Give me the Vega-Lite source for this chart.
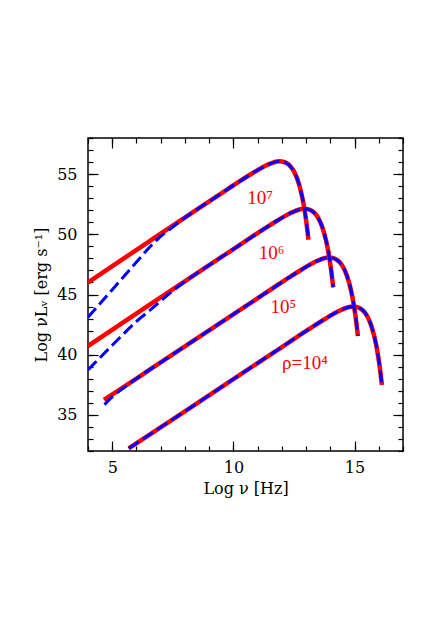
{
  "$schema": "https://vega.github.io/schema/vega-lite/v6.json",
  "width": 315,
  "height": 313,
  "autosize": {"type": "none"},
  "padding": {"left": 88, "top": 138, "right": 44, "bottom": 181},
  "background": "white",
  "config": {
    "view": {"stroke": "#000", "strokeWidth": 1.5},
    "axis": {
      "grid": false,
      "domain": false,
      "labelFont": "DejaVu Serif",
      "labelFontSize": 16,
      "labelColor": "#000",
      "titleFont": "DejaVu Serif",
      "titleFontSize": 16,
      "titleFontWeight": "normal",
      "titleColor": "#000",
      "tickColor": "#000",
      "tickWidth": 1.2
    }
  },
  "datasets": {
    "curves": [
      {"c": 7, "s": "red", "x": 4, "y": 46.0},
      {"c": 7, "s": "red", "x": 6.5, "y": 49.38},
      {"c": 7, "s": "blue", "x": 4, "y": 43.1},
      {"c": 7, "s": "blue", "x": 5, "y": 45.4},
      {"c": 7, "s": "blue", "x": 6, "y": 47.7},
      {"c": 7, "s": "blue", "x": 6.6, "y": 49.05},
      {"c": 7, "s": "blue", "x": 6.9, "y": 49.65},
      {"c": 7, "s": "blue", "x": 7.35, "y": 50.38},
      {"c": 7, "s": "blue", "x": 7.8, "y": 51.08},
      {"c": 7, "s": "blue", "x": 8.3, "y": 51.8},
      {"c": 7, "s": "both", "x": 8.8, "y": 52.47},
      {"c": 7, "s": "both", "x": 9.8, "y": 53.8},
      {"c": 7, "s": "both", "x": 10.3, "y": 54.46},
      {"c": 7, "s": "both", "x": 10.8, "y": 55.09},
      {"c": 7, "s": "both", "x": 11.1, "y": 55.45},
      {"c": 7, "s": "both", "x": 11.3, "y": 55.67},
      {"c": 7, "s": "both", "x": 11.5, "y": 55.85},
      {"c": 7, "s": "both", "x": 11.65, "y": 55.96},
      {"c": 7, "s": "both", "x": 11.8, "y": 56.04},
      {"c": 7, "s": "both", "x": 11.925, "y": 56.06},
      {"c": 7, "s": "both", "x": 12.05, "y": 56.03},
      {"c": 7, "s": "both", "x": 12.2, "y": 55.91},
      {"c": 7, "s": "both", "x": 12.35, "y": 55.66},
      {"c": 7, "s": "both", "x": 12.5, "y": 55.23},
      {"c": 7, "s": "both", "x": 12.65, "y": 54.53},
      {"c": 7, "s": "both", "x": 12.8, "y": 53.46},
      {"c": 7, "s": "both", "x": 12.9, "y": 52.47},
      {"c": 7, "s": "both", "x": 13.0, "y": 51.19},
      {"c": 7, "s": "both", "x": 13.1, "y": 49.54},

      {"c": 6, "s": "red", "x": 4, "y": 40.72},
      {"c": 6, "s": "red", "x": 6.5, "y": 44.1},
      {"c": 6, "s": "blue", "x": 4, "y": 38.74},
      {"c": 6, "s": "blue", "x": 5, "y": 40.78},
      {"c": 6, "s": "blue", "x": 6, "y": 42.76},
      {"c": 6, "s": "blue", "x": 6.66, "y": 43.87},
      {"c": 6, "s": "blue", "x": 7.21, "y": 44.83},
      {"c": 6, "s": "blue", "x": 7.7, "y": 45.62},
      {"c": 6, "s": "blue", "x": 8.3, "y": 46.49},
      {"c": 6, "s": "both", "x": 9.0, "y": 47.44},
      {"c": 6, "s": "both", "x": 9.82, "y": 48.53},
      {"c": 6, "s": "both", "x": 10.82, "y": 49.86},
      {"c": 6, "s": "both", "x": 11.32, "y": 50.52},
      {"c": 6, "s": "both", "x": 11.82, "y": 51.15},
      {"c": 6, "s": "both", "x": 12.12, "y": 51.51},
      {"c": 6, "s": "both", "x": 12.32, "y": 51.73},
      {"c": 6, "s": "both", "x": 12.52, "y": 51.91},
      {"c": 6, "s": "both", "x": 12.67, "y": 52.02},
      {"c": 6, "s": "both", "x": 12.82, "y": 52.1},
      {"c": 6, "s": "both", "x": 12.945, "y": 52.12},
      {"c": 6, "s": "both", "x": 13.07, "y": 52.09},
      {"c": 6, "s": "both", "x": 13.22, "y": 51.97},
      {"c": 6, "s": "both", "x": 13.37, "y": 51.72},
      {"c": 6, "s": "both", "x": 13.52, "y": 51.29},
      {"c": 6, "s": "both", "x": 13.67, "y": 50.59},
      {"c": 6, "s": "both", "x": 13.82, "y": 49.52},
      {"c": 6, "s": "both", "x": 13.92, "y": 48.53},
      {"c": 6, "s": "both", "x": 14.02, "y": 47.25},
      {"c": 6, "s": "both", "x": 14.12, "y": 45.6},

      {"c": 5, "s": "red", "x": 4.66, "y": 36.24},
      {"c": 5, "s": "blue", "x": 4.68, "y": 35.85},
      {"c": 5, "s": "blue", "x": 5.0, "y": 36.5},
      {"c": 5, "s": "blue", "x": 5.4, "y": 37.15},
      {"c": 5, "s": "both", "x": 6.0, "y": 38.02},
      {"c": 5, "s": "both", "x": 7.0, "y": 39.36},
      {"c": 5, "s": "both", "x": 10.84, "y": 44.48},
      {"c": 5, "s": "both", "x": 11.84, "y": 45.81},
      {"c": 5, "s": "both", "x": 12.34, "y": 46.47},
      {"c": 5, "s": "both", "x": 12.84, "y": 47.1},
      {"c": 5, "s": "both", "x": 13.14, "y": 47.46},
      {"c": 5, "s": "both", "x": 13.34, "y": 47.68},
      {"c": 5, "s": "both", "x": 13.54, "y": 47.86},
      {"c": 5, "s": "both", "x": 13.69, "y": 47.97},
      {"c": 5, "s": "both", "x": 13.84, "y": 48.05},
      {"c": 5, "s": "both", "x": 13.965, "y": 48.07},
      {"c": 5, "s": "both", "x": 14.09, "y": 48.04},
      {"c": 5, "s": "both", "x": 14.24, "y": 47.92},
      {"c": 5, "s": "both", "x": 14.39, "y": 47.67},
      {"c": 5, "s": "both", "x": 14.54, "y": 47.24},
      {"c": 5, "s": "both", "x": 14.69, "y": 46.54},
      {"c": 5, "s": "both", "x": 14.84, "y": 45.47},
      {"c": 5, "s": "both", "x": 14.94, "y": 44.48},
      {"c": 5, "s": "both", "x": 15.04, "y": 43.2},
      {"c": 5, "s": "both", "x": 15.14, "y": 41.55},

      {"c": 4, "s": "both", "x": 5.68, "y": 32.21},
      {"c": 4, "s": "both", "x": 8.0, "y": 35.3},
      {"c": 4, "s": "both", "x": 11.83, "y": 40.41},
      {"c": 4, "s": "both", "x": 12.83, "y": 41.74},
      {"c": 4, "s": "both", "x": 13.33, "y": 42.4},
      {"c": 4, "s": "both", "x": 13.83, "y": 43.03},
      {"c": 4, "s": "both", "x": 14.13, "y": 43.39},
      {"c": 4, "s": "both", "x": 14.33, "y": 43.61},
      {"c": 4, "s": "both", "x": 14.53, "y": 43.79},
      {"c": 4, "s": "both", "x": 14.68, "y": 43.9},
      {"c": 4, "s": "both", "x": 14.83, "y": 43.98},
      {"c": 4, "s": "both", "x": 14.955, "y": 44.0},
      {"c": 4, "s": "both", "x": 15.08, "y": 43.97},
      {"c": 4, "s": "both", "x": 15.23, "y": 43.85},
      {"c": 4, "s": "both", "x": 15.38, "y": 43.6},
      {"c": 4, "s": "both", "x": 15.53, "y": 43.17},
      {"c": 4, "s": "both", "x": 15.68, "y": 42.47},
      {"c": 4, "s": "both", "x": 15.83, "y": 41.4},
      {"c": 4, "s": "both", "x": 15.93, "y": 40.41},
      {"c": 4, "s": "both", "x": 16.03, "y": 39.13},
      {"c": 4, "s": "both", "x": 16.13, "y": 37.48}
    ],
    "labels": [
      {"t": "10⁷", "x": 11.1, "y": 53.0},
      {"t": "10⁶", "x": 11.58, "y": 48.44},
      {"t": "10⁵", "x": 12.06, "y": 44.0},
      {"t": "ρ=10⁴", "x": 12.95, "y": 39.3}
    ]
  },
  "resolve": {"axis": {"x": "independent", "y": "independent"}},
  "layer": [
    {
      "data": {"name": "curves"},
      "transform": [{"filter": "datum.s != 'blue'"}],
      "mark": {"type": "line", "color": "#ff0000", "strokeWidth": 4.5, "clip": true, "interpolate": "monotone"},
      "encoding": {
        "x": {"field": "x", "type": "quantitative",
              "scale": {"domain": [4, 17], "nice": false, "zero": false},
              "axis": {"orient": "bottom", "values": [5, 10, 15], "tickSize": -10, "labelPadding": 18, "title": "Log ν [Hz]", "titlePadding": 5}},
        "y": {"field": "y", "type": "quantitative",
              "scale": {"domain": [32, 58], "nice": false, "zero": false},
              "axis": {"orient": "left", "values": [35, 40, 45, 50, 55], "tickSize": -10, "labelPadding": 21, "title": "Log νLᵥ [erg s⁻¹]", "titlePadding": 7}},
        "detail": {"field": "c"},
        "order": {"field": "x", "type": "quantitative"}
      }
    },
    {
      "data": {"name": "curves"},
      "transform": [{"filter": "datum.s != 'red' && datum.c >= 6"}],
      "mark": {"type": "line", "color": "#0000ff", "strokeWidth": 3, "strokeDash": [12, 5], "clip": true, "interpolate": "monotone"},
      "encoding": {
        "x": {"field": "x", "type": "quantitative",
              "scale": {"domain": [4, 17], "nice": false, "zero": false},
              "axis": {"orient": "bottom", "values": [4,5,6,7,8,9,10,11,12,13,14,15,16,17], "tickSize": -5, "labels": false, "title": null}},
        "y": {"field": "y", "type": "quantitative",
              "scale": {"domain": [32, 58], "nice": false, "zero": false},
              "axis": {"orient": "left", "values": [32,33,34,35,36,37,38,39,40,41,42,43,44,45,46,47,48,49,50,51,52,53,54,55,56,57,58], "tickSize": -5, "labels": false, "title": null}},
        "detail": {"field": "c"},
        "order": {"field": "x", "type": "quantitative"}
      }
    },
    {
      "data": {"name": "curves"},
      "transform": [{"filter": "datum.s != 'red' && datum.c <= 5"}],
      "mark": {"type": "line", "color": "#0000ff", "strokeWidth": 3, "strokeDash": [12, 5], "clip": true, "interpolate": "monotone"},
      "encoding": {
        "x": {"field": "x", "type": "quantitative",
              "scale": {"domain": [4, 17], "nice": false, "zero": false},
              "axis": {"orient": "top", "values": [5, 10, 15], "tickSize": -10, "labels": false, "title": null}},
        "y": {"field": "y", "type": "quantitative",
              "scale": {"domain": [32, 58], "nice": false, "zero": false},
              "axis": {"orient": "right", "values": [35, 40, 45, 50, 55], "tickSize": -10, "labels": false, "title": null}},
        "detail": {"field": "c"},
        "order": {"field": "x", "type": "quantitative"}
      }
    },
    {
      "data": {"name": "labels"},
      "mark": {"type": "text", "color": "#ff0000", "font": "Liberation Serif", "fontSize": 19, "align": "center", "baseline": "middle"},
      "encoding": {
        "x": {"field": "x", "type": "quantitative",
              "scale": {"domain": [4, 17], "nice": false, "zero": false},
              "axis": {"orient": "top", "values": [4,5,6,7,8,9,10,11,12,13,14,15,16,17], "tickSize": -5, "labels": false, "title": null}},
        "y": {"field": "y", "type": "quantitative",
              "scale": {"domain": [32, 58], "nice": false, "zero": false},
              "axis": {"orient": "right", "values": [32,33,34,35,36,37,38,39,40,41,42,43,44,45,46,47,48,49,50,51,52,53,54,55,56,57,58], "tickSize": -5, "labels": false, "title": null}},
        "text": {"field": "t", "type": "nominal"}
      }
    }
  ]
}
